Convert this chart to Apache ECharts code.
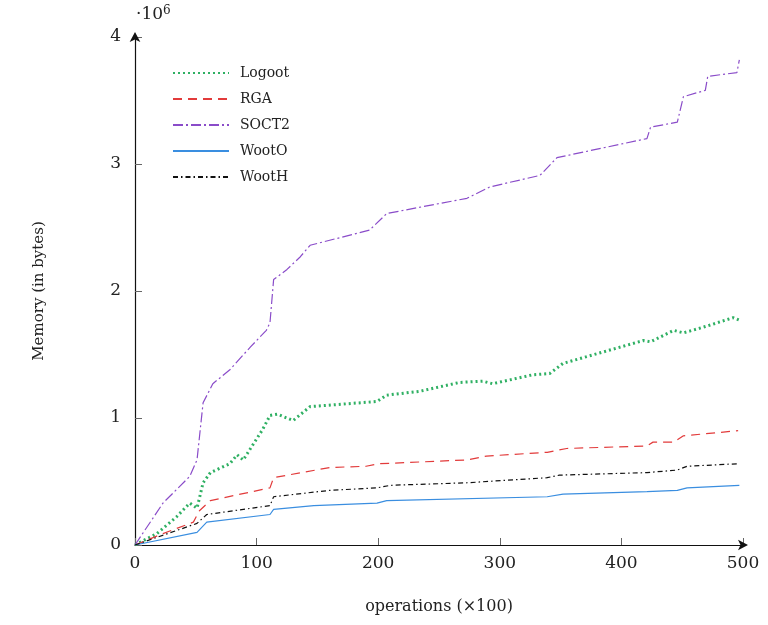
<!DOCTYPE html>
<html>
<head>
<meta charset="utf-8">
<script src="https://cdn.jsdelivr.net/npm/echarts@6/dist/echarts.min.js"></script>
<style>
  html, body { margin: 0; padding: 0; background: #fff; }
  #chart { width: 768px; height: 625px; }
</style>
</head>
<body>
<div id="chart"></div>
<script>
// operations (x100) and memory (x10^6 bytes)
const logootX = [0, 18, 34, 45, 51, 56, 62, 78, 84, 89, 105, 111, 117, 130, 144, 158, 199, 207, 234, 267, 286, 294, 327, 341, 352, 418, 424, 443, 451, 469, 492, 497];
const logootY = [0, 0.09, 0.22, 0.33, 0.29, 0.49, 0.57, 0.64, 0.71, 0.67, 0.91, 1.02, 1.03, 0.98, 1.09, 1.10, 1.13, 1.18, 1.21, 1.28, 1.29, 1.27, 1.34, 1.35, 1.43, 1.61, 1.60, 1.69, 1.67, 1.72, 1.79, 1.77];

const rgaX = [0, 23, 48, 53, 62, 111, 114, 160, 190, 201, 273, 289, 339, 355, 421, 426, 443, 451, 496];
const rgaY = [0, 0.09, 0.18, 0.27, 0.35, 0.45, 0.53, 0.61, 0.62, 0.64, 0.67, 0.70, 0.73, 0.76, 0.78, 0.81, 0.81, 0.86, 0.90];

const soct2X = [0, 23, 45, 51, 56, 64, 78, 95, 108, 111, 114, 125, 136, 144, 193, 207, 273, 292, 333, 347, 421, 424, 446, 451, 469, 471, 495, 497];
const soct2Y = [0, 0.33, 0.54, 0.67, 1.12, 1.27, 1.38, 1.56, 1.69, 1.75, 2.09, 2.17, 2.27, 2.36, 2.48, 2.61, 2.73, 2.82, 2.91, 3.05, 3.20, 3.29, 3.33, 3.53, 3.58, 3.69, 3.72, 3.82];

const wootOX = [0, 51, 59, 111, 114, 147, 199, 207, 339, 352, 421, 446, 454, 497];
const wootOY = [0, 0.10, 0.18, 0.24, 0.28, 0.31, 0.33, 0.35, 0.38, 0.40, 0.42, 0.43, 0.45, 0.47];

const wootHX = [0, 51, 59, 111, 114, 160, 199, 210, 273, 339, 349, 421, 446, 454, 496];
const wootHY = [0, 0.17, 0.24, 0.31, 0.38, 0.43, 0.45, 0.47, 0.49, 0.53, 0.55, 0.57, 0.59, 0.62, 0.64];

const xTicks = [0, 100, 200, 300, 400, 500];
const yTicks = [0, 1, 2, 3, 4];

function pairs(xs, ys) {
    return xs.map((x, i) => [x, ys[i]]);
}

const serif = "'DejaVu Serif', 'Liberation Serif', serif";
const chart = echarts.init(document.getElementById('chart'));

function line(name, xs, ys, color, width, type) {
    return {
        name: name,
        type: 'line',
        data: pairs(xs, ys),
        showSymbol: false,
        symbol: 'none',
        lineStyle: { color: color, width: width, type: type },
        itemStyle: { color: color },
        silent: true
    };
}

const option = {
    animation: false,
    backgroundColor: '#fff',
    grid: { left: 135, right: 25, top: 37, bottom: 80 },
    legend: {
        orient: 'vertical',
        left: 167,
        top: 61,
        itemWidth: 56,
        itemHeight: 12,
        itemGap: 12,
        itemStyle: { opacity: 0 },
        textStyle: { fontFamily: serif, fontSize: 14, color: '#222', padding: [0, 0, 0, 6] },
        data: ['Logoot', 'RGA', 'SOCT2', 'WootO', 'WootH']
    },
    graphic: [{
        type: 'text',
        left: 136,
        top: 5,
        style: {
            text: '·10{s|6}',
            rich: { s: { fontSize: 12, fontFamily: serif, verticalAlign: 'top', padding: [0, 0, 8, 0] } },
            fontFamily: serif,
            fontSize: 17,
            fill: '#222'
        }
    }],
    xAxis: {
        type: 'value',
        min: 0,
        max: 500,
        interval: 100,
        name: 'operations (×100)',
        nameLocation: 'middle',
        nameGap: 54,
        nameTextStyle: { fontFamily: serif, fontSize: 16, color: '#222' },
        axisLine: { lineStyle: { color: '#111', width: 1.2 }, symbol: ['none', 'arrow'], symbolSize: [8, 10], symbolOffset: [0, 5] },
        axisTick: { inside: true, length: 7, lineStyle: { color: '#666' } },
        axisLabel: { fontFamily: serif, fontSize: 17, color: '#222', margin: 10,
            formatter: v => xTicks.includes(v) ? String(v) : '' },
        splitLine: { show: false }
    },
    yAxis: {
        type: 'value',
        min: 0,
        max: 4,
        interval: 1,
        name: 'Memory (in bytes)',
        nameLocation: 'middle',
        nameGap: 88,
        nameTextStyle: { fontFamily: serif, fontSize: 15, color: '#222' },
        axisLine: { show: true, lineStyle: { color: '#111', width: 1.2 }, symbol: ['none', 'arrow'], symbolSize: [8, 10], symbolOffset: [0, 5] },
        axisTick: { show: true, inside: true, length: 7, lineStyle: { color: '#666' } },
        axisLabel: { fontFamily: serif, fontSize: 17, color: '#222', margin: 14,
            formatter: v => yTicks.includes(v) ? String(v) : '' },
        splitLine: { show: false }
    },
    series: [
        line('Logoot', logootX, logootY, '#2fb063', 3, [2, 3]),
        line('RGA', rgaX, rgaY, '#e23b3b', 1.2, [9, 6]),
        line('SOCT2', soct2X, soct2Y, '#8a4cc9', 1.2, [10, 3, 2, 3]),
        line('WootO', wootOX, wootOY, '#3a8ee0', 1.2, 'solid'),
        line('WootH', wootHX, wootHY, '#111', 1.2, [5, 3, 1.5, 3])
    ]
};
chart.setOption(option);
</script>
</body>
</html>
